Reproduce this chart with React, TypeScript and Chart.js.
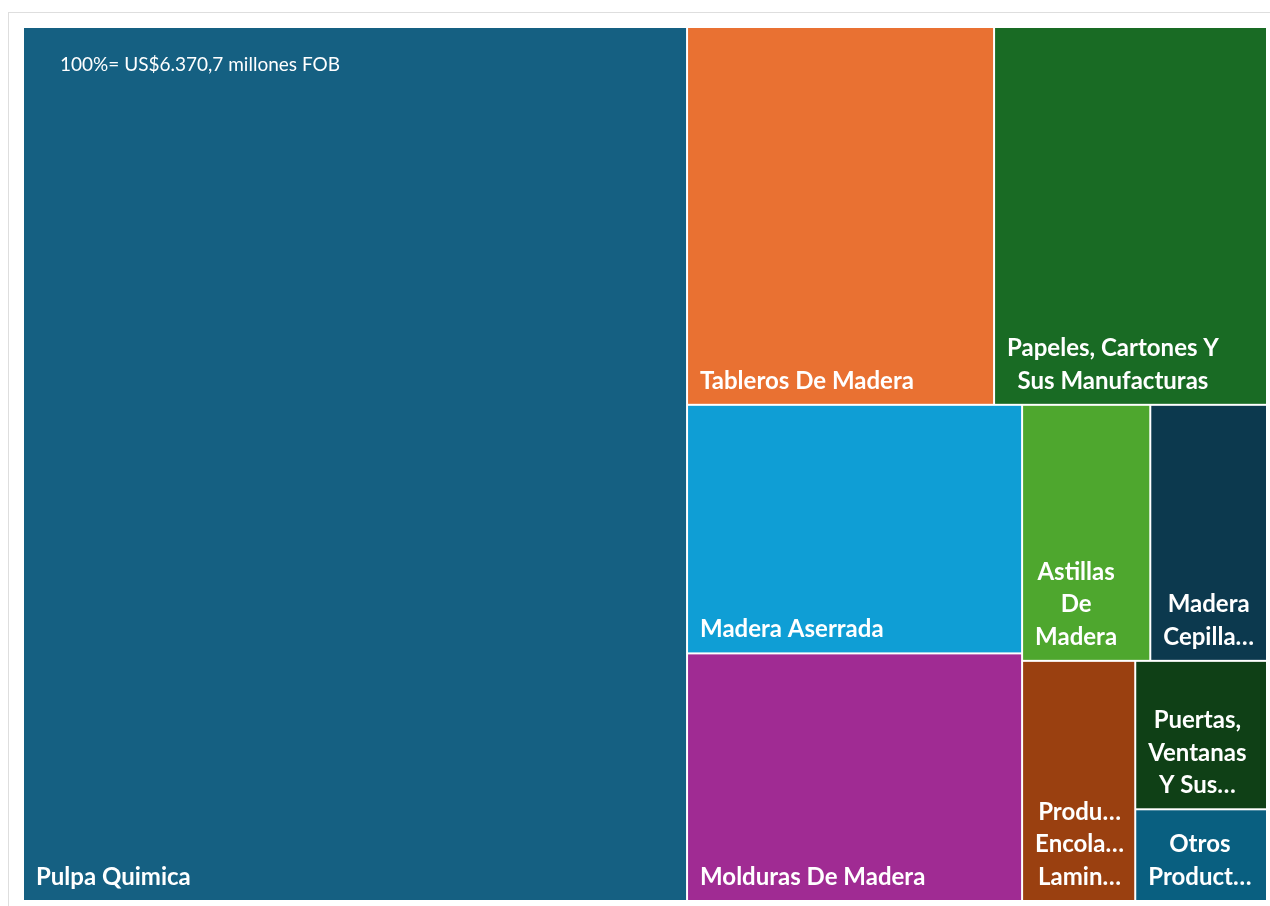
import React, { useEffect, useRef } from "react";
import { Chart, registerables } from "chart.js";

Chart.register(...registerables);

// ---- Data ----
const categories = [
  "Pulpa Quimica",
  "Tableros De Madera",
  "Papeles, Cartones Y Sus Manufacturas",
  "Madera Aserrada",
  "Molduras De Madera",
  "Astillas De Madera",
  "Madera Cepillada",
  "Productos Encolados Laminados",
  "Puertas, Ventanas Y Sus Partes",
  "Otros Productos",
];
const values = [3400.7, 679.7, 604.2, 488.0, 486.1, 192.3, 175.1, 159.2, 114.6, 70.8];
const colors = [
  "#156082",
  "#E97132",
  "#196B24",
  "#0F9ED5",
  "#A02B93",
  "#4EA72E",
  "#0C394E",
  "#9A4010",
  "#0F4016",
  "#095F80",
];
const headerText = "100%= US$6.370,7 millones FOB";

const LABEL_FONT = "bold 24px Lato, 'Open Sans', sans-serif";
const HEADER_FONT = "19px Lato, 'Open Sans', sans-serif";

type Rect = { x0: number; y0: number; x1: number; y1: number };

// Binary treemap tiling (value-halving), orientation alternating by depth.
// sx/sy = pixels per unit in x/y (used to pick the root orientation).
function treemapBinary(vals: number[], sx: number, sy: number): Rect[] {
  const n = vals.length;
  const sums = [0];
  for (let i = 0; i < n; i++) sums.push(sums[i] + vals[i]);
  const out: Rect[] = new Array(n);
  function partition(
    i: number,
    j: number,
    value: number,
    x0: number,
    y0: number,
    x1: number,
    y1: number,
    splitX: boolean
  ) {
    if (i >= j - 1) {
      out[i] = { x0, y0, x1, y1 };
      return;
    }
    const valueOffset = sums[i];
    const valueTarget = value / 2 + valueOffset;
    let k = i + 1;
    let hi = j - 1;
    while (k < hi) {
      const mid = (k + hi) >>> 1;
      if (sums[mid] < valueTarget) k = mid + 1;
      else hi = mid;
    }
    if (valueTarget - sums[k - 1] < sums[k] - valueTarget && i + 1 < k) --k;
    const valueLeft = sums[k] - valueOffset;
    const valueRight = value - valueLeft;
    if (splitX) {
      const xk = value ? (x0 * valueRight + x1 * valueLeft) / value : x1;
      partition(i, k, valueLeft, x0, y0, xk, y1, !splitX);
      partition(k, j, valueRight, xk, y0, x1, y1, !splitX);
    } else {
      const yk = value ? (y0 * valueRight + y1 * valueLeft) / value : y1;
      partition(i, k, valueLeft, x0, y0, x1, yk, !splitX);
      partition(k, j, valueRight, x0, yk, x1, y1, !splitX);
    }
  }
  partition(0, n, sums[n], 0, 0, 1, 1, sx >= sy);
  return out;
}

function truncate(ctx: CanvasRenderingContext2D, text: string, maxW: number): string {
  if (ctx.measureText(text).width <= maxW) return text;
  let t = text.replace(/…$/, "");
  while (t.length > 1 && ctx.measureText(t + "…").width > maxW) t = t.slice(0, -1);
  return t.replace(/[\s,]+$/, "") + "…";
}

function wrapLabel(ctx: CanvasRenderingContext2D, text: string, maxW: number, maxLines: number): string[] {
  const words = text.split(" ");
  const lines: string[] = [];
  let cur = "";
  for (const w of words) {
    const test = cur ? cur + " " + w : w;
    if (ctx.measureText(test).width <= maxW) {
      cur = test;
    } else {
      if (cur) lines.push(cur);
      cur = w;
    }
  }
  if (cur) lines.push(cur);
  let res = lines.map((l) => truncate(ctx, l, maxW));
  if (res.length > maxLines) {
    res = res.slice(0, Math.max(1, maxLines));
    const last = res[res.length - 1];
    if (!last.endsWith("…")) res[res.length - 1] = truncate(ctx, last + "…", maxW);
  }
  return res;
}

const treemapPlugin = {
  id: "treemapCells",
  afterDatasetsDraw(chart: any) {
    const { ctx, chartArea, scales } = chart;
    const xs = scales.x;
    const ys = scales.y;
    const sx = chartArea.right - chartArea.left;
    const sy = chartArea.bottom - chartArea.top;
    const rects = treemapBinary(values, sx, sy);
    const gap = 1;
    const box = (r: Rect) => {
      const left = xs.getPixelForValue(r.x0) + gap;
      const right = xs.getPixelForValue(r.x1) - gap;
      const top = ys.getPixelForValue(r.y0) + gap;
      const bottom = ys.getPixelForValue(r.y1) - gap;
      return { left, right, top, bottom };
    };
    ctx.save();
    rects.forEach((r, i) => {
      const b = box(r);
      ctx.fillStyle = colors[i];
      ctx.fillRect(b.left, b.top, b.right - b.left, b.bottom - b.top);
    });
    // labels
    ctx.font = LABEL_FONT;
    ctx.fillStyle = "#ffffff";
    ctx.textBaseline = "middle";
    ctx.textAlign = "left";
    const pad = 12;
    const lineH = 32.5;
    rects.forEach((r, i) => {
      const b = box(r);
      const fullW = b.right - b.left + 2 * gap;
      const h = b.bottom - b.top;
      const maxLines = Math.max(1, Math.floor((h - 2 * pad) / 32));
      const lines = wrapLabel(ctx, categories[i], fullW - 23, maxLines);
      const widths = lines.map((l) => ctx.measureText(l).width);
      const blockW = Math.max(...widths);
      const lastY = b.bottom - 23;
      lines.forEach((l, li) => {
        const y = lastY - (lines.length - 1 - li) * lineH;
        const x = b.left + pad + (blockW - widths[li]) / 2;
        ctx.fillText(l, x, y);
      });
    });
    // header annotation
    ctx.font = HEADER_FONT;
    ctx.textBaseline = "middle";
    ctx.fillText(headerText, chartArea.left + 37, chartArea.top + 38);
    ctx.restore();
  },
};

export default function App() {
  const canvasRef = useRef<HTMLCanvasElement | null>(null);

  useEffect(() => {
    document.body.style.overflow = "hidden";
    if (!canvasRef.current) return;
    const chart = new Chart(canvasRef.current, {
      type: "scatter",
      data: {
        datasets: [
          {
            label: "Exportaciones",
            data: [],
          },
        ],
      },
      options: {
        animation: false,
        responsive: true,
        maintainAspectRatio: false,
        layout: { padding: { left: 14, top: 14, right: 3, bottom: 0 } },
        plugins: {
          legend: { display: false },
          tooltip: { enabled: false },
          title: { display: false },
        },
        scales: {
          x: { type: "linear", min: 0, max: 1, display: false },
          y: { type: "linear", min: 0, max: 1, reverse: true, display: false },
        },
      },
      plugins: [treemapPlugin],
    });
    const fonts: any = (document as any).fonts;
    if (fonts && fonts.load) {
      Promise.all([fonts.load(LABEL_FONT), fonts.load(HEADER_FONT)])
        .then(() => chart.update())
        .catch(() => {});
    }
    return () => {
      chart.destroy();
    };
  }, []);

  return (
    <div
      style={{
        position: "absolute",
        left: 8,
        top: 12,
        width: 1300,
        height: 1000,
        border: "1px solid #dedede",
        boxSizing: "border-box",
        background: "#ffffff",
      }}
    >
      <div style={{ position: "absolute", left: 0, top: 0, width: 1261, height: 888 }}>
        <canvas ref={canvasRef} />
      </div>
    </div>
  );
}
